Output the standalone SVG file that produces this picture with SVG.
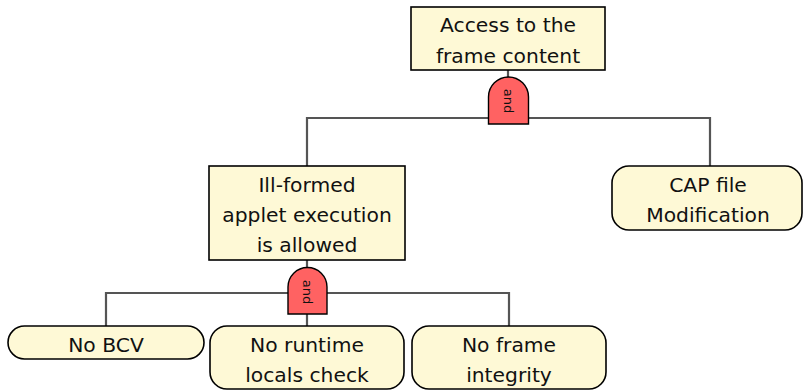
<svg xmlns="http://www.w3.org/2000/svg" width="803" height="392" viewBox="0 0 803 392">
<style>
.node{fill:#fef9d6;stroke:#000;stroke-width:1.6}
.gate{fill:#ff6262;stroke:#000;stroke-width:1.4}
.conn{fill:none;stroke:#555;stroke-width:2.2}
text{font-family:"DejaVu Sans","Liberation Sans",sans-serif;fill:#111}
.t{font-size:20.3px;text-anchor:middle}
.g{font-size:13px;text-anchor:middle}
</style>
<rect width="803" height="392" fill="#fff"/>
<g id="connectors">
<path class="conn" d="M508 70V80M307 166V118H710V166"/>
<path class="conn" d="M307 260V270M106 326V293H509V326M307 312V326"/>
</g>
<g id="gate1">
<path class="gate" d="M488.5 124V97A20 20 0 0 1 528.5 97V124Z"/>
<text class="g" transform="translate(508 101) rotate(90)" dy="4.5">and</text>
</g>
<g id="gate2">
<path class="gate" d="M288 314V287A19.5 19.5 0 0 1 327 287V314Z"/>
<text class="g" transform="translate(307.5 292) rotate(90)" dy="4.5">and</text>
</g>
<g id="n1">
<rect class="node" x="411" y="7" width="194" height="63"/>
<text class="t" x="508" y="32">Access to the</text>
<text class="t" x="508" y="63">frame content</text>
</g>
<g id="n2">
<rect class="node" x="209" y="166" width="196" height="94"/>
<text class="t" x="307" y="192">Ill-formed</text>
<text class="t" x="307" y="222">applet execution</text>
<text class="t" x="307" y="252">is allowed</text>
</g>
<g id="n3">
<rect class="node" x="612" y="166" width="190" height="64" rx="17"/>
<text class="t" x="708" y="192">CAP file</text>
<text class="t" x="708" y="222">Modification</text>
</g>
<g id="n4">
<rect class="node" x="8" y="326" width="196" height="33" rx="16.5"/>
<text class="t" x="106" y="352">No BCV</text>
</g>
<g id="n5">
<rect class="node" x="210" y="326" width="194" height="63" rx="17"/>
<text class="t" x="307" y="352">No runtime</text>
<text class="t" x="307" y="382">locals check</text>
</g>
<g id="n6">
<rect class="node" x="412" y="326" width="194" height="63" rx="17"/>
<text class="t" x="509" y="352">No frame</text>
<text class="t" x="509" y="382">integrity</text>
</g>
</svg>
